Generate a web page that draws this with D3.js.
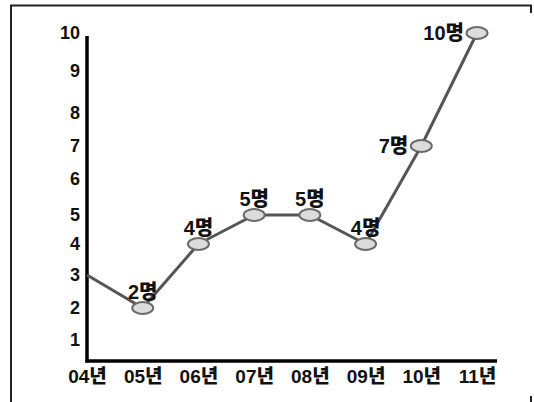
<!DOCTYPE html>
<html>
<head>
<meta charset="utf-8">
<script src="https://cdn.jsdelivr.net/npm/d3@7/dist/d3.min.js"></script>
<style>
  html, body { margin: 0; padding: 0; background: #fff; }
  svg { display: block; }
  text { font-family: "Liberation Sans", Arial, "Noto Sans CJK KR", sans-serif; font-weight: 900; fill: #111; }
</style>
</head>
<body>
<svg id="chart" width="534" height="402"></svg>
<script>
// Yearly head count
const years = ["04년", "05년", "06년", "07년", "08년", "09년", "10년", "11년"];
const counts = [3, 2, 4, 5, 5, 4, 7, 10];
const pointLabels = ["", "2명", "4명", "5명", "5명", "4명", "7명", "10명"];
const yTicks = [1, 2, 3, 4, 5, 6, 7, 8, 9, 10];

const svg = d3.select("#chart");
const fontStack = "'Liberation Sans', Arial, 'Noto Sans CJK KR', sans-serif";

// Outer frame (top and left edges, with short corner stubs on the right)
const frame = svg.append("g").attr("stroke", "#222").attr("stroke-width", 2).attr("fill", "none");
frame.append("path").attr("d", "M11,402 V5.5 H531 V13");
frame.append("path").attr("d", "M531,396 V402");

// Value axis is hand-spaced, so map each tick onto its own position
const y = d3.scaleLinear()
  .domain(yTicks)
  .range([340, 308, 275, 244, 215, 179, 146, 113, 71, 33]);

const x = d3.scalePoint()
  .domain(years)
  .range([87, 477]);

const axisX = 87, axisBottom = 361;

// Y tick labels
const yAxis = svg.append("g")
  .attr("transform", `translate(${axisX},0)`)
  .call(d3.axisLeft(y).tickValues(yTicks).tickSize(0).tickPadding(7).tickFormat(d3.format("d")));
yAxis.select(".domain").remove();
yAxis.selectAll("text").attr("font-size", 18).attr("fill", "#111")
  .style("font-family", fontStack).style("font-weight", "900");

// X tick labels
const xAxis = svg.append("g")
  .attr("transform", `translate(0,${axisBottom})`)
  .call(d3.axisBottom(x).tickSize(0).tickPadding(9));
xAxis.select(".domain").remove();
xAxis.selectAll("text").attr("font-size", 19).attr("fill", "#111")
  .style("font-family", fontStack).style("font-weight", "900");

// Axis lines
svg.append("line")
  .attr("x1", axisX).attr("x2", axisX).attr("y1", 36).attr("y2", axisBottom + 1.5)
  .attr("stroke", "#000").attr("stroke-width", 3.5);
svg.append("line")
  .attr("x1", axisX - 1.5).attr("x2", 497).attr("y1", axisBottom).attr("y2", axisBottom)
  .attr("stroke", "#000").attr("stroke-width", 3.5);

const data = years.map((yr, i) => ({ year: yr, value: counts[i], label: pointLabels[i] }));

// Trend line
const line = d3.line().x(d => x(d.year)).y(d => y(d.value));
svg.append("path")
  .datum(data)
  .attr("d", line)
  .attr("fill", "none")
  .attr("stroke", "#555")
  .attr("stroke-width", 3)
  .attr("stroke-linejoin", "round");

// Markers (the starting year has none)
const marked = data.filter(d => d.label);
svg.append("g").selectAll("ellipse")
  .data(marked)
  .join("ellipse")
  .attr("cx", d => x(d.year))
  .attr("cy", d => y(d.value))
  .attr("rx", 10.5)
  .attr("ry", 6)
  .attr("fill", "#dcdcdc")
  .attr("stroke", "#6a6a6a")
  .attr("stroke-width", 2);

// Value labels: above the marker, or to its left on the steep final rise
const sideLabels = new Set(["10년", "11년"]);
svg.append("g").selectAll("text")
  .data(marked)
  .join("text")
  .attr("font-size", 20)
  .attr("x", d => sideLabels.has(d.year) ? x(d.year) - 13 : x(d.year))
  .attr("y", d => sideLabels.has(d.year) ? y(d.value) + 7 : y(d.value) - 9)
  .attr("text-anchor", d => sideLabels.has(d.year) ? "end" : "middle")
  .text(d => d.label);
</script>
</body>
</html>
